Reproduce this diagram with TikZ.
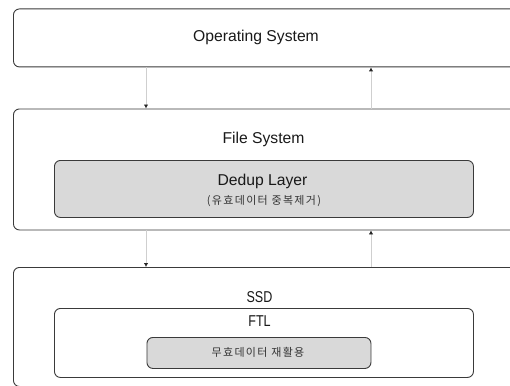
\documentclass[tikz,border=0pt]{standalone}
\usepackage{fontspec}
\setmainfont{Liberation Sans}
\newfontfamily\kr[LetterSpace=12]{Noto Sans CJK KR}
\usetikzlibrary{arrows.meta}
\definecolor{edge}{HTML}{3A3A3A}
\definecolor{fillg}{HTML}{D9D9D9}
\definecolor{linkg}{HTML}{CFCFCF}
\tikzset{
  box/.style={draw=edge, line width=0.9pt, rounded corners=6pt, fill=white, inner sep=0pt, anchor=north west},
  graybox/.style={box, fill=fillg},
  lbl/.style={inner sep=0pt, font=\fontsize{15.7}{18}\selectfont, text=black!90},
  krlbl/.style={inner sep=0pt, font=\fontsize{11}{13}\kr, text=black!80},
  link/.style={draw=linkg, line width=1pt, -{Latex[length=4pt,width=4.5pt,fill=black!85,color=black!85]}}
}
\begin{document}
\begin{tikzpicture}[x=1pt,y=-1pt]
\useasboundingbox (0,0) rectangle (510,385);
\clip (0,0) rectangle (510,385);
% boxes
\node[box, minimum width=507pt, minimum height=58pt] (os) at (13,8.5) {};
\node[box, minimum width=507pt, minimum height=121pt] (fs) at (13,108.5) {};
\node[graybox, minimum width=419pt, minimum height=57pt] (dd) at (54,160) {};
\node[box, minimum width=507pt, minimum height=119pt] (ssd) at (13,267) {};
\node[box, minimum width=419pt, minimum height=69pt] (ftl) at (54,308) {};
\node[graybox, minimum width=224pt, minimum height=31pt] (re) at (146.5,337) {};
% labels
\node[lbl] (tos) at (256,37) {Operating System};
\node[lbl] (tfs) at (263.5,139) {File System};
\node[lbl] (tdd) at (262.5,181) {Dedup Layer};
\node[krlbl] (tdk) at (264,201) {(유효데이터 중복제거)};
\node[lbl] (tssd) at (259.5,297.5) {\scalebox{0.8}[1]{SSD}};
\node[lbl] (tftl) at (259.5,321.5) {\scalebox{0.8}[1]{FTL}};
\node[krlbl] (tre) at (258,352.5) {무효데이터 재활용};
% connectors
\coordinate (xa) at (146,0);
\coordinate (xb) at (371,0);
\draw[link] (xa |- os.south) -- (xa |- fs.north);
\draw[link] (xb |- fs.north) -- (xb |- os.south);
\draw[link] (xa |- fs.south) -- (xa |- ssd.north);
\draw[link] (xb |- ssd.north) -- (xb |- fs.south);
\end{tikzpicture}
\end{document}
